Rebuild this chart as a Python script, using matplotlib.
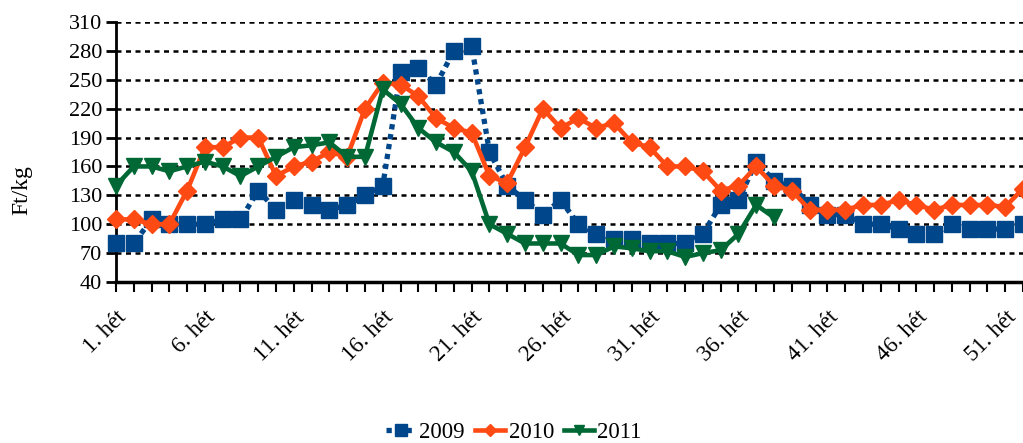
import numpy as np
import matplotlib
matplotlib.use('Agg')
import matplotlib.pyplot as plt

# Weekly prices, Ft/kg
weeks = ['%d. hét' % i for i in range(1, 53)]
y2009 = [80, 80, 105, 100, 100, 100, 105, 105, 135, 115,
         125, 120, 115, 120, 130, 140, 258, 262, 245, 280,
         285, 175, 140, 125, 110, 125, 100, 90, 85, 85,
         80, 80, 80, 90, 120, 125, 165, 145, 140, 120,
         110, 110, 100, 100, 95, 90, 90, 100, 95, 95, 95, 100]
y2010 = [105, 105, 100, 100, 135, 180, 180, 190, 190, 150,
         160, 165, 175, 170, 220, 247, 245, 233, 210, 200,
         195, 150, 143, 180, 220, 200, 210, 200, 205, 185,
         180, 160, 160, 155, 135, 140, 160, 140, 135, 115,
         115, 115, 120, 120, 125, 120, 115, 120, 120, 120, 118, 137]
y2011 = [140, 160, 160, 155, 160, 165, 160, 150, 160, 170,
         180, 182, 185, 170, 170, 240, 225, 200, 185, 175,
         155, 100, 90, 80, 80, 80, 68, 68, 77, 75,
         72, 72, 66, 70, 73, 90, 120, 107]
yticks = [40, 70, 100, 130, 160, 190, 220, 250, 280, 310]

c09 = '#00468A'
c10 = '#FF4A14'
c11 = '#006834'

plt.rcParams['font.family'] = ['Liberation Serif', 'DejaVu Serif']

fig = plt.figure(figsize=(10.23, 4.43), dpi=100)
ax = fig.add_axes([116/1023, 1-282/443, 1-116/1023, 260/443])

x = np.arange(1, len(weeks)+1)

# gridlines
for v in yticks[1:]:
    ax.axhline(v, color='black', lw=1.8, ls=(0, (2, 1.8)), zorder=1)

ax.plot(x, y2009, color=c09, ls=(0, (1, 0.9)), lw=3.8, marker='s', ms=11.5,
        label='2009', clip_on=False, zorder=3)
ax.plot(x, y2010, color=c10, lw=3.3, marker='D', ms=9,
        label='2010', clip_on=False, zorder=4)
ax.plot(x[:len(y2011)], y2011, color=c11, lw=3.3, marker='v', ms=11,
        label='2011', clip_on=False, zorder=5)

ax.set_xlim(1, 51.96)
ax.set_ylim(40, 310)
ax.set_yticks(yticks)
ax.set_xticks(x)
ax.set_xticklabels([w if (i % 5 == 0) else '' for i, w in enumerate(weeks)],
                   rotation=45, ha='right', va='top', rotation_mode='anchor')
for sp in ['top', 'right']:
    ax.spines[sp].set_visible(False)
ax.spines['left'].set_linewidth(2)
ax.spines['bottom'].set_linewidth(2.5)
ax.tick_params(axis='y', length=7, width=2, labelsize=16, pad=3)
ax.tick_params(axis='x', length=7, width=1.5, labelsize=16.5, pad=11)

fig.text(22/1023, 1-190/443, 'Ft/kg', rotation=90, ha='center', va='center',
         fontsize=17)

fig.legend(loc='center', bbox_to_anchor=(514/1023, 1-432/443), ncol=3,
           frameon=False, fontsize=16.5, handlelength=1.3, handletextpad=0.15,
           columnspacing=0.45, markerscale=0.7, borderaxespad=0)

fig.savefig('out.png', dpi=100)
